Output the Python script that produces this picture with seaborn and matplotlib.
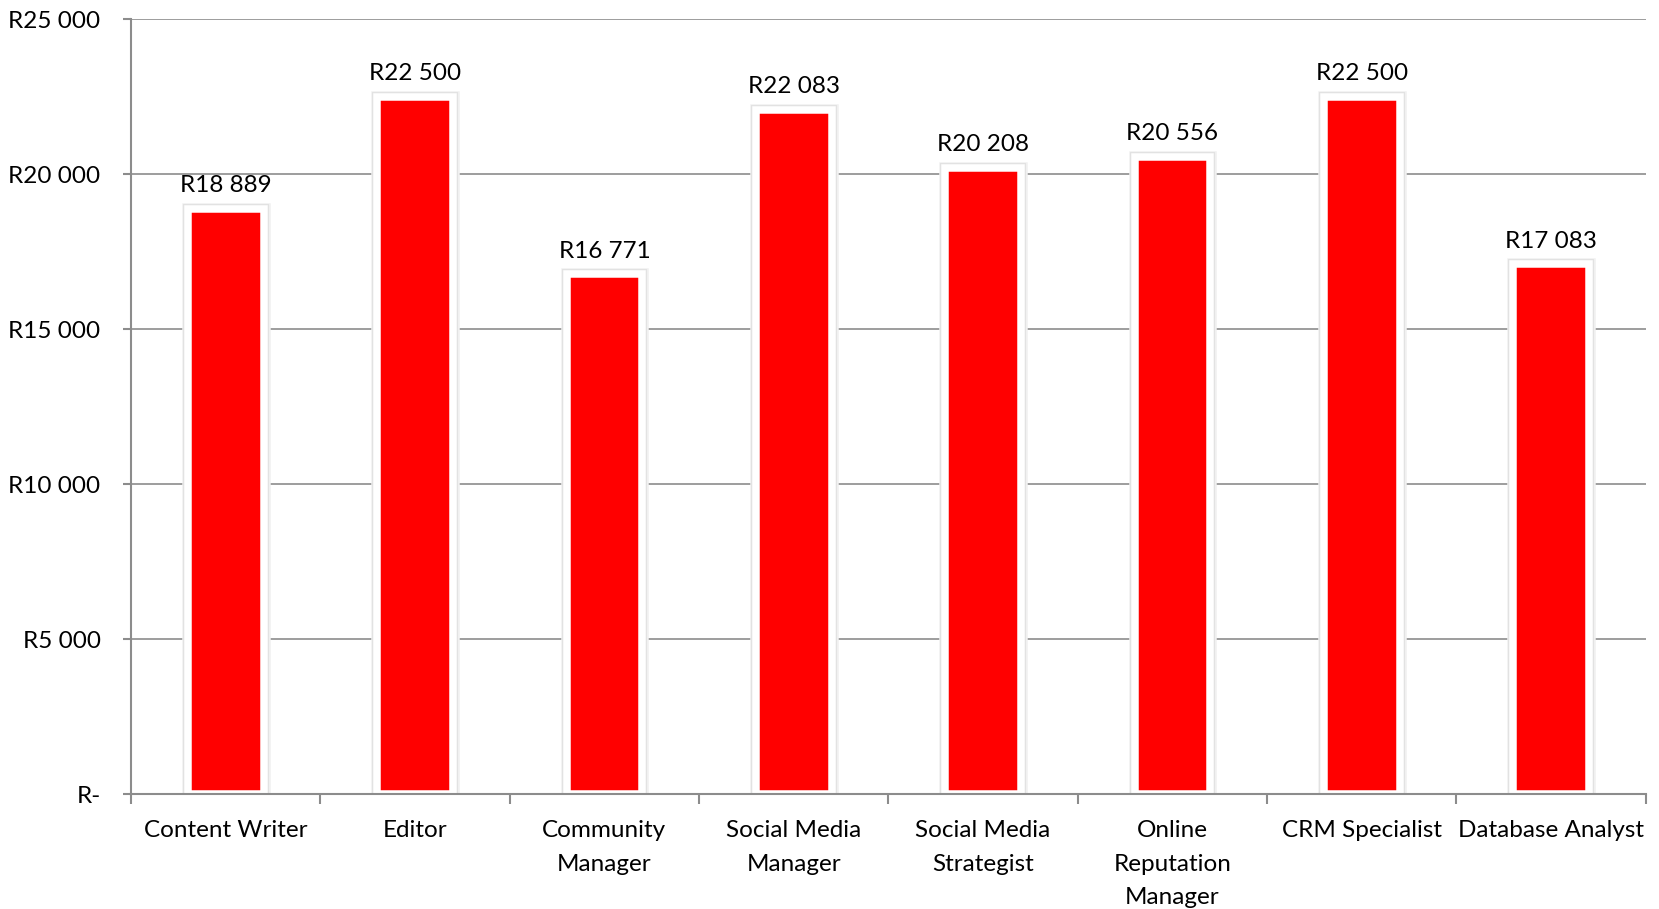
import matplotlib
matplotlib.use("Agg")
import matplotlib.pyplot as plt
import matplotlib.patheffects as pe
from matplotlib.ticker import FuncFormatter, FixedLocator
import seaborn as sns
import pandas as pd

# Average monthly salary per digital role (Rand)
roles = [
    "Content Writer",
    "Editor",
    "Community\nManager",
    "Social Media\nManager",
    "Social Media\nStrategist",
    "Online\nReputation\nManager",
    "CRM Specialist",
    "Database Analyst",
]
salaries = [18889, 22500, 16771, 22083, 20208, 20556, 22500, 17083]
y_ticks = [0, 5000, 10000, 15000, 20000, 25000]

df = pd.DataFrame({"role": roles, "salary": salaries})

sns.set_theme(style="white")
plt.rcParams["font.family"] = ["Lato", "DejaVu Sans"]

AXIS_GREY = "#8c8c8c"
FS = 17.5


def rand(v):
    if v == 0:
        return "R-"
    return "R" + f"{int(round(v)):,}".replace(",", " ")


fig = plt.figure(figsize=(16.59, 9.09), dpi=100)
ax = fig.add_axes([0.079, 0.1265, 0.913, 0.8525])

sns.barplot(
    data=df, x="role", y="salary", ax=ax,
    color="#ff0000", saturation=1, width=0.40,
    edgecolor="white", linewidth=5.4, zorder=3,
)

# soft grey glow around each white-framed bar
for bar in ax.patches:
    bar.set_path_effects([
        pe.Stroke(linewidth=9.0, foreground="#f0f0f0"),
        pe.Stroke(linewidth=7.2, foreground="#e2e2e2"),
        pe.Normal(),
    ])

# value labels above the bars
for i, v in enumerate(salaries):
    ax.annotate(rand(v), (i, v), xytext=(0, 9), textcoords="offset points",
                ha="center", va="bottom", fontsize=FS, color="black")

ax.set_ylim(0, 25000)
ax.set_xlim(-0.5, len(roles) - 0.5)
ax.yaxis.set_major_locator(FixedLocator(y_ticks))
ax.yaxis.set_major_formatter(FuncFormatter(lambda v, p: rand(v)))

# category boundaries carry the tick marks, labels sit at bar centres
ax.set_xticks([i - 0.5 for i in range(len(roles) + 1)])
ax.set_xticklabels([])
ax.set_xticks(range(len(roles)), minor=True)
ax.set_xticklabels(roles, minor=True, fontsize=FS, color="black",
                   linespacing=1.72, va="top")
ax.tick_params(axis="x", which="major", length=7, width=1.5, color=AXIS_GREY,
               direction="out", bottom=True)
ax.tick_params(axis="x", which="minor", length=0, pad=19)
ax.tick_params(axis="y", which="major", length=6, width=1.5, color=AXIS_GREY,
               direction="out", left=True, labelsize=FS, labelcolor="black", pad=16)

ax.grid(axis="y", color=AXIS_GREY, linewidth=1.2, zorder=0)
ax.set_axisbelow(True)
for side in ("top", "right"):
    ax.spines[side].set_visible(False)
for side in ("left", "bottom"):
    ax.spines[side].set_color(AXIS_GREY)
    ax.spines[side].set_linewidth(1.5)
    ax.spines[side].set_zorder(4)

ax.set_xlabel("")
ax.set_ylabel("")

fig.savefig("out.png", dpi=100, facecolor="white")
